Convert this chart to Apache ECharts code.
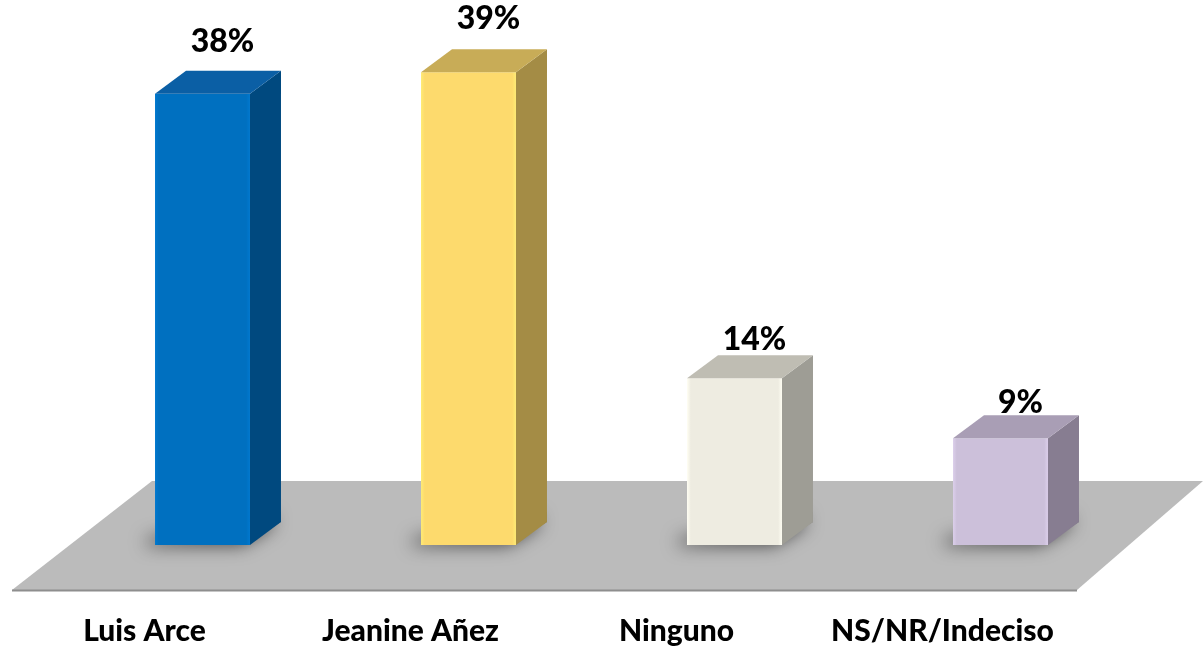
<!DOCTYPE html>
<html>
<head>
<meta charset="utf-8">
<script src="https://cdn.jsdelivr.net/npm/echarts@6/dist/echarts.min.js"></script>
<style>
html,body{margin:0;padding:0;background:#fff;}
#chart{width:1203px;height:646px;}
</style>
</head>
<body>
<div id="chart"></div>
<script>
// ---- data ----
var categories = ['Luis Arce', 'Jeanine Añez', 'Ninguno', 'NS/NR/Indeciso'];
var values = [37.6, 39.4, 13.9, 8.9];          // bar heights (%)
var valueLabels = ['38%', '39%', '14%', '9%']; // labels as printed

// ---- styles ----
var frontColors = ['#0070C0', '#FDDA6D', '#EEECE1', '#CCC0DA'];
var sideColors  = ['#00497F', '#A48C45', '#9E9D95', '#877D91'];
var topColors   = ['#0B5FA5', '#C8AC57', '#BFBDB3', '#A99EB5'];
var FONT = 'Lato, "Open Sans", sans-serif';

var chart = echarts.init(document.getElementById('chart'));

function renderItem(params, api) {
  var idx = api.value(0), v = api.value(1);
  var top = api.coord([idx, v]);
  var bot = api.coord([idx, 0]);
  var band = api.size([1, 0])[0];
  var w = band * 0.357;
  var x0 = top[0] - w / 2, x1 = top[0] + w / 2;
  var yT = top[1], yB = bot[1];
  var dx = 31, dy = -23;
  var i = params.dataIndex;
  return {
    type: 'group',
    children: [
      { type: 'polygon', shape: { points: [[x0, yB - 4], [x1, yB - 4], [x1 + dx, yB + dy], [x1 + dx, yB + dy - 10], [x0, yB - 10]] },
        style: { fill: '#777', shadowBlur: 18, shadowColor: 'rgba(0,0,0,0.65)', shadowOffsetX: -8, shadowOffsetY: 4 }, z2: 0 },
      { type: 'rect', shape: { x: x0, y: yT, width: w, height: yB - yT },
        style: { fill: new echarts.graphic.LinearGradient(0, 0, 1, 0, [
          { offset: 0, color: echarts.color.lift(frontColors[i], -0.08) },
          { offset: 0.04, color: frontColors[i] },
          { offset: 0.96, color: frontColors[i] },
          { offset: 1, color: echarts.color.lift(frontColors[i], -0.08) }]) }, z2: 2 },
      { type: 'polygon', shape: { points: [[x1, yT], [x1 + dx, yT + dy], [x1 + dx, yB + dy], [x1, yB]] },
        style: { fill: sideColors[i] }, z2: 2 },
      { type: 'polygon', shape: { points: [[x0, yT], [x0 + dx, yT + dy], [x1 + dx, yT + dy], [x1, yT]] },
        style: { fill: topColors[i] }, z2: 2 },
      { type: 'text', x: top[0] + 20, y: yT - (30 + v * 0.6),
        style: { text: valueLabels[i], fill: '#000', font: '900 32px ' + FONT, align: 'center', verticalAlign: 'middle' }, z2: 3 }
    ]
  };
}

var option = {
  backgroundColor: '#fff',
  animation: false,
  grid: { left: 69.5, right: 69.5, top: 65, bottom: 99 },
  xAxis: {
    type: 'category',
    data: categories,
    axisLine: { show: false },
    axisTick: { show: false },
    axisLabel: {
      interval: 0,
      hideOverlap: false,
      margin: 71,
      color: '#000',
      fontFamily: FONT,
      fontWeight: 900,
      fontSize: 30,
      padding: [0, 116, 0, 0]
    }
  },
  yAxis: { type: 'value', min: 0, max: 40, show: false },
  graphic: [
    { type: 'polygon', z: 0, shape: { points: [[152, 481], [1203, 481], [1077, 590], [12, 590]] },
      style: { fill: '#BBBBBB' } },
    { type: 'line', z: 0, shape: { x1: 12, y1: 590.5, x2: 1077, y2: 590.5 },
      style: { stroke: '#8E8E8E', lineWidth: 2 } }
  ],
  series: [{
    type: 'custom',
    z: 5,
    renderItem: renderItem,
    data: values.map(function (v, i) { return [i, v]; })
  }]
};
chart.setOption(option);
</script>
</body>
</html>
